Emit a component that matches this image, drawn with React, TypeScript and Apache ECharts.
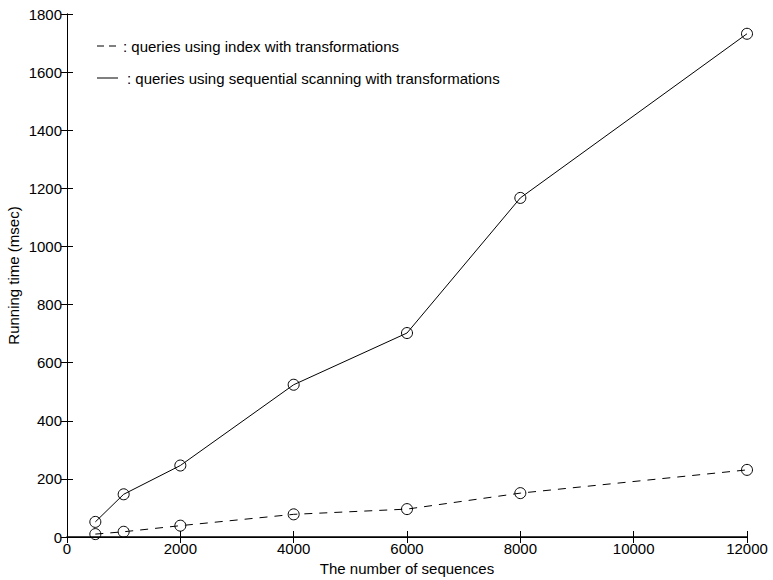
import React, { useEffect, useRef } from "react";
import * as echarts from "echarts";

// Number of sequences in the data set
const sequenceCounts = [500, 1000, 2000, 4000, 6000, 8000, 12000];
// Running time (msec) of the two query strategies
const indexTimes = [10, 18, 39, 78, 96, 151, 231];
const scanTimes = [52, 147, 246, 524, 702, 1167, 1732];

const xTicks = [0, 2000, 4000, 6000, 8000, 10000, 12000];
const yTicks = [0, 200, 400, 600, 800, 1000, 1200, 1400, 1600, 1800];

const legendIndex = ": queries using index with transformations";
const legendScan = ": queries using sequential scanning with transformations";

const FONT = "'Liberation Sans', Arial, Helvetica, sans-serif";
const FS = 15;

export default function App() {
  const ref = useRef<HTMLDivElement>(null);

  useEffect(() => {
    if (!ref.current) return;
    const chart = echarts.init(ref.current, null, { renderer: "svg" });

    const pairs = (ys: number[]) => sequenceCounts.map((x, i) => [x, ys[i]]);

    const axisCommon = {
      axisLine: { show: true, lineStyle: { color: "#000", width: 1 } },
      axisTick: { show: true, inside: true, length: 6, lineStyle: { color: "#000" } },
      splitLine: { show: false },
    };

    chart.setOption({
      animation: false,
      backgroundColor: "#fff",
      textStyle: { fontFamily: FONT },
      grid: {
        left: 67,
        right: 26,
        top: 14,
        bottom: 43,
        containLabel: false,
        outerBoundsMode: "none",
      },
      xAxis: [
        {
          type: "value",
          min: 0,
          max: 12000,
          interval: 2000,
          position: "bottom",
          ...axisCommon,
          axisLine: { show: true, lineStyle: { color: "#000", width: 1.5 } },
          axisLabel: {
            color: "#000",
            fontSize: FS,
            fontFamily: FONT,
            margin: 4,
            formatter: (v: number) => (xTicks.includes(v) ? String(v) : ""),
          },
          name: "The number of sequences",
          nameLocation: "middle",
          nameGap: 23,
          nameTextStyle: { color: "#000", fontSize: FS, fontFamily: FONT },
        },
        {
          type: "value",
          min: 0,
          max: 12000,
          interval: 2000,
          position: "top",
          ...axisCommon,
          axisLabel: { show: false },
        },
      ],
      yAxis: [
        {
          type: "value",
          min: 0,
          max: 1800,
          interval: 200,
          position: "left",
          ...axisCommon,
          axisLabel: {
            color: "#000",
            fontSize: FS,
            fontFamily: FONT,
            margin: 5,
            formatter: (v: number) => (yTicks.includes(v) ? String(v) : ""),
          },
          name: "Running time (msec)",
          nameLocation: "middle",
          nameGap: 46,
          nameMoveOverlap: false,
          nameTextStyle: { color: "#000", fontSize: FS, fontFamily: FONT },
        },
        {
          type: "value",
          min: 0,
          max: 1800,
          interval: 200,
          position: "right",
          ...axisCommon,
          axisLabel: { show: false },
        },
      ],
      series: [
        {
          type: "line",
          name: "index",
          data: pairs(indexTimes),
          symbol: "circle",
          symbolSize: 11,
          itemStyle: { color: "rgba(0,0,0,0)", borderColor: "#000", borderWidth: 1 },
          lineStyle: { color: "#000", width: 1, type: [8, 7] },
          z: 3,
        },
        {
          type: "line",
          name: "scan",
          data: pairs(scanTimes),
          symbol: "circle",
          symbolSize: 11,
          itemStyle: { color: "rgba(0,0,0,0)", borderColor: "#000", borderWidth: 1 },
          lineStyle: { color: "#000", width: 1, type: "solid" },
          z: 3,
        },
      ],
      graphic: [
        {
          type: "line",
          shape: { x1: 97, y1: 46, x2: 119, y2: 46 },
          style: { stroke: "#000", lineWidth: 1, lineDash: [7, 5] },
        },
        {
          type: "text",
          x: 123,
          y: 46,
          style: {
            text: legendIndex,
            fill: "#000",
            font: `${FS}px ${FONT}`,
            verticalAlign: "middle",
          },
        },
        {
          type: "line",
          shape: { x1: 97, y1: 78, x2: 118, y2: 78 },
          style: { stroke: "#000", lineWidth: 1 },
        },
        {
          type: "text",
          x: 127,
          y: 78,
          style: {
            text: legendScan,
            fill: "#000",
            font: `${FS}px ${FONT}`,
            verticalAlign: "middle",
          },
        },
      ],
    });

    return () => chart.dispose();
  }, []);

  return <div ref={ref} style={{ width: 773, height: 580, position: "absolute", left: 0, top: 0 }} />;
}
